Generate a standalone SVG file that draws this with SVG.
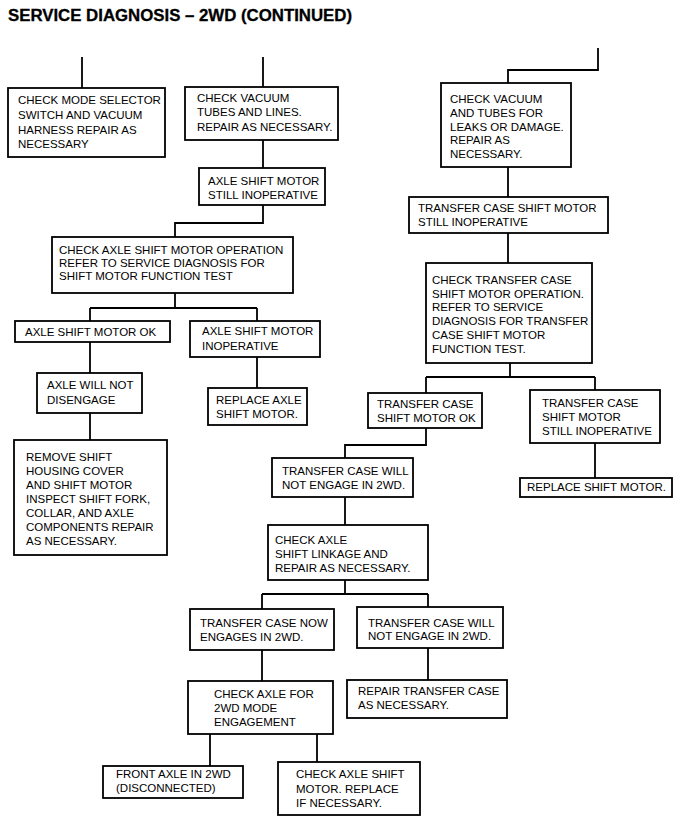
<svg xmlns="http://www.w3.org/2000/svg" width="678" height="832" viewBox="0 0 678 832">
<style>
.bx{fill:#fff;stroke:#000;stroke-width:1.8}
.t{font-family:"Liberation Sans",Arial,sans-serif;font-size:11.5px;fill:#000}
.c{fill:none;stroke:#000;stroke-width:1.8}
.ttl{font-family:"Liberation Sans",Arial,sans-serif;font-size:16px;font-weight:bold;fill:#000;stroke:#000;stroke-width:0.3}
</style>
<rect width="678" height="832" fill="#fff"/>
<text class="ttl" x="8" y="21" textLength="344" lengthAdjust="spacingAndGlyphs">SERVICE DIAGNOSIS – 2WD (CONTINUED)</text>
<g id="connectors">
<path class="c" d="M82 57V88M263 57V87M263 140V168M263 205V223H175V237M175 293V308M90 308H257M90 308V321M257 308V321M90 342V373M257 357V388M90 413V440M598 48V70H508V83M508 167V197M508 233V263M510 363V377M426 377H595M426 377V393M595 377V390M426 428V445H345V458M595 443V478M345 497V525M345 580V594M262 594H428M262 594V609M428 594V607M262 650V681M428 648V680M210 734V766M317 734V762"/>
</g>
<g id="n1"><rect class="bx" x="8" y="88" width="157" height="69"/><text class="t" x="18" y="104">CHECK MODE SELECTOR</text><text class="t" x="18" y="119">SWITCH AND VACUUM</text><text class="t" x="18" y="134">HARNESS  REPAIR AS</text><text class="t" x="18" y="148">NECESSARY</text></g>
<g id="n2"><rect class="bx" x="185" y="87" width="153" height="53"/><text class="t" x="197" y="102">CHECK VACUUM</text><text class="t" x="197" y="116">TUBES AND LINES.</text><text class="t" x="197" y="131">REPAIR AS NECESSARY.</text></g>
<g id="n3"><rect class="bx" x="199" y="168" width="126" height="37"/><text class="t" x="208" y="185">AXLE SHIFT MOTOR</text><text class="t" x="208" y="199">STILL INOPERATIVE</text></g>
<g id="n4"><rect class="bx" x="52" y="237" width="241" height="56"/><text class="t" x="59" y="254">CHECK AXLE SHIFT MOTOR OPERATION</text><text class="t" x="59" y="267">REFER TO SERVICE DIAGNOSIS FOR</text><text class="t" x="59" y="280">SHIFT MOTOR FUNCTION TEST</text></g>
<g id="n5"><rect class="bx" x="15" y="321" width="155" height="21"/><text class="t" x="25" y="336">AXLE SHIFT MOTOR OK</text></g>
<g id="n6"><rect class="bx" x="190" y="321" width="130" height="36"/><text class="t" x="202" y="335">AXLE SHIFT MOTOR</text><text class="t" x="202" y="350">INOPERATIVE</text></g>
<g id="n7"><rect class="bx" x="37" y="373" width="105" height="40"/><text class="t" x="47" y="389">AXLE WILL NOT</text><text class="t" x="47" y="404">DISENGAGE</text></g>
<g id="n8"><rect class="bx" x="208" y="388" width="99" height="37"/><text class="t" x="216" y="404">REPLACE AXLE</text><text class="t" x="216" y="418">SHIFT MOTOR.</text></g>
<g id="n9"><rect class="bx" x="14" y="440" width="153" height="115"/><text class="t" x="26" y="461">REMOVE SHIFT</text><text class="t" x="26" y="475">HOUSING COVER</text><text class="t" x="26" y="489">AND SHIFT MOTOR</text><text class="t" x="26" y="503">INSPECT SHIFT FORK,</text><text class="t" x="26" y="517">COLLAR, AND AXLE</text><text class="t" x="26" y="531">COMPONENTS  REPAIR</text><text class="t" x="26" y="545">AS NECESSARY.</text></g>
<g id="n10"><rect class="bx" x="441" y="83" width="130" height="84"/><text class="t" x="450" y="103">CHECK VACUUM</text><text class="t" x="450" y="117">AND TUBES FOR</text><text class="t" x="450" y="131">LEAKS OR DAMAGE.</text><text class="t" x="450" y="144">REPAIR AS</text><text class="t" x="450" y="158">NECESSARY.</text></g>
<g id="n11"><rect class="bx" x="409" y="197" width="199" height="36"/><text class="t" x="418" y="212">TRANSFER CASE SHIFT MOTOR</text><text class="t" x="418" y="226">STILL INOPERATIVE</text></g>
<g id="n12"><rect class="bx" x="426" y="263" width="166" height="100"/><text class="t" x="432" y="284">CHECK TRANSFER CASE</text><text class="t" x="432" y="298">SHIFT MOTOR OPERATION.</text><text class="t" x="432" y="311">REFER TO SERVICE</text><text class="t" x="432" y="325">DIAGNOSIS FOR TRANSFER</text><text class="t" x="432" y="339">CASE SHIFT MOTOR</text><text class="t" x="432" y="353">FUNCTION TEST.</text></g>
<g id="n13"><rect class="bx" x="368" y="393" width="114" height="35"/><text class="t" x="377" y="408">TRANSFER CASE</text><text class="t" x="377" y="422">SHIFT MOTOR OK</text></g>
<g id="n14"><rect class="bx" x="530" y="390" width="130" height="53"/><text class="t" x="542" y="407">TRANSFER CASE</text><text class="t" x="542" y="421">SHIFT MOTOR</text><text class="t" x="542" y="435">STILL INOPERATIVE</text></g>
<g id="n15"><rect class="bx" x="520" y="478" width="152" height="19"/><text class="t" x="527" y="491">REPLACE SHIFT MOTOR.</text></g>
<g id="n16"><rect class="bx" x="272" y="458" width="141" height="39"/><text class="t" x="282" y="475">TRANSFER CASE WILL</text><text class="t" x="282" y="489">NOT ENGAGE IN 2WD.</text></g>
<g id="n17"><rect class="bx" x="268" y="525" width="160" height="55"/><text class="t" x="275" y="544">CHECK AXLE</text><text class="t" x="275" y="558">SHIFT LINKAGE AND</text><text class="t" x="275" y="572">REPAIR AS NECESSARY.</text></g>
<g id="n18"><rect class="bx" x="190" y="609" width="144" height="41"/><text class="t" x="200" y="627">TRANSFER CASE NOW</text><text class="t" x="200" y="641">ENGAGES IN 2WD.</text></g>
<g id="n19"><rect class="bx" x="357" y="607" width="146" height="41"/><text class="t" x="368" y="627">TRANSFER CASE WILL</text><text class="t" x="368" y="640">NOT ENGAGE IN 2WD.</text></g>
<g id="n20"><rect class="bx" x="347" y="680" width="160" height="38"/><text class="t" x="358" y="695">REPAIR TRANSFER CASE</text><text class="t" x="358" y="709">AS NECESSARY.</text></g>
<g id="n21"><rect class="bx" x="188" y="681" width="145" height="53"/><text class="t" x="214" y="698">CHECK AXLE FOR</text><text class="t" x="214" y="712">2WD MODE</text><text class="t" x="214" y="726">ENGAGEMENT</text></g>
<g id="n22"><rect class="bx" x="103" y="766" width="140" height="32"/><text class="t" x="116" y="778">FRONT AXLE IN 2WD</text><text class="t" x="116" y="792">(DISCONNECTED)</text></g>
<g id="n23"><rect class="bx" x="278" y="762" width="142" height="53"/><text class="t" x="296" y="778">CHECK AXLE SHIFT</text><text class="t" x="296" y="793">MOTOR. REPLACE</text><text class="t" x="296" y="807">IF NECESSARY.</text></g>
</svg>
